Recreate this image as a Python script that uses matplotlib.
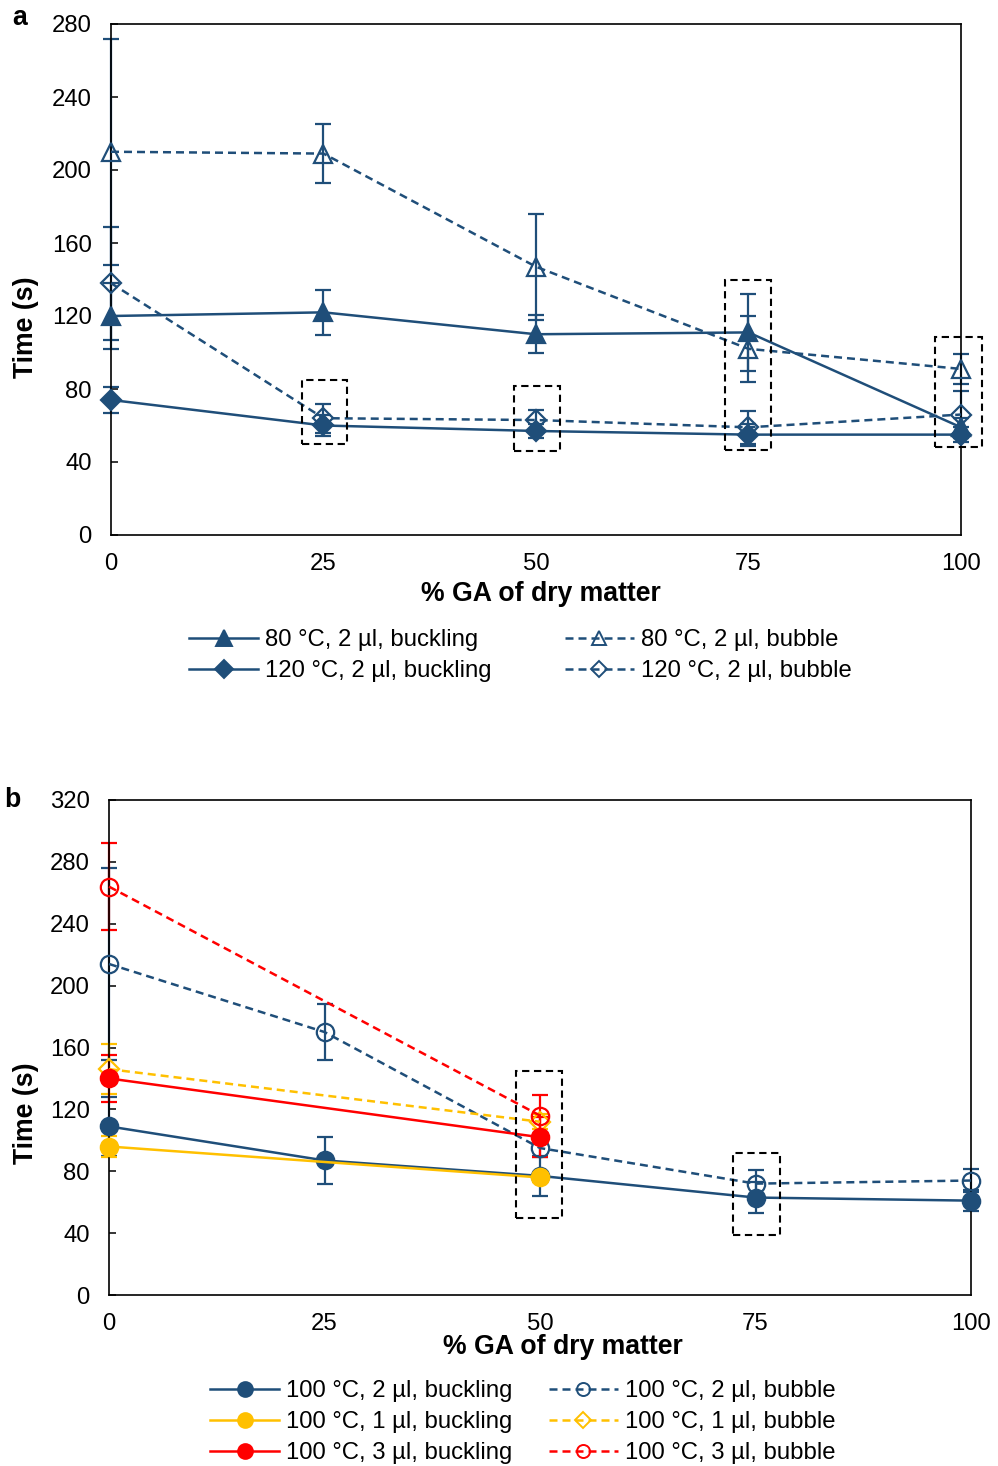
import matplotlib
matplotlib.use("Agg")
import matplotlib.pyplot as plt
from matplotlib.lines import Line2D
from matplotlib.patches import Rectangle

plt.rcParams["font.family"] = ["Liberation Sans", "DejaVu Sans"]

# ---------------- data: panel a ----------------
ga = [0, 25, 50, 75, 100]
buck_80 = [120, 122, 110, 111, 59]
buck_80_err = [18, 12.5, 10.5, 21, 5]
bub_80 = [210, 209, 147, 102, 91]
bub_80_err = [62, 16, 29, 18, 8]
buck_120 = [74, 60, 57, 55, 55]
buck_120_err = [7, 5.5, 4, 6, 4]
bub_120 = [138, 64, 63, 59, 66]
bub_120_err = [31, 8, 5.5, 9, 13]

# ---------------- data: panel b ----------------
ga_2ul = [0, 25, 50, 75, 100]
buck_2ul = [109, 87, 77, 63, 61]
buck_2ul_err = [19, 15, 13, 10, 7]
bub_2ul = [214, 170, 95, 72, 74]
bub_2ul_err = [62, 18, 6, 8.6, 7.5]
ga_1ul = [0, 50]
buck_1ul = [96, 76]
buck_1ul_err = [7, 3]
bub_1ul = [146, 112]
bub_1ul_err = [16, 5]
ga_3ul = [0, 50]
buck_3ul = [140, 102]
buck_3ul_err = [15, 13]
bub_3ul = [264, 116]
bub_3ul_err = [28, 13]

xticks = [0, 25, 50, 75, 100]
yticks_a = [0, 40, 80, 120, 160, 200, 240, 280]
yticks_b = [0, 40, 80, 120, 160, 200, 240, 280, 320]

# highlighted regions (x0, x1, y0, y1)
boxes_a = [(22.5, 27.8, 50, 85), (47.4, 52.8, 46, 81.5),
           (72.2, 77.7, 46.5, 140), (97.0, 102.5, 48, 108.5)]
boxes_b = [(47.2, 52.6, 50, 145), (72.4, 77.8, 39, 91.5)]

BLUE = "#1F4E79"
YELLOW = "#FFC000"
RED = "#FF0000"
DASH = (0, (3.2, 2.0))
LW = 1.8
FS = 17.2
FS_LABEL = 19.2

fig = plt.figure(figsize=(9.98, 14.66), dpi=100)
ax_a = fig.add_axes([111 / 998, 1 - 535 / 1466, 850 / 998, 511 / 1466])
ax_b = fig.add_axes([109 / 998, 1 - 1295 / 1466, 862 / 998, 495 / 1466])


def series(ax, x, y, err, color, marker, ls, filled, ms=12.5):
    ax.errorbar(x, y, yerr=err, color=color, ecolor=color, elinewidth=1.6,
                capsize=5.5, capthick=1.6, linestyle="none", marker="none",
                clip_on=False, zorder=2)
    ax.plot(x, y, color=color, linestyle=ls, linewidth=LW, marker=marker,
            markersize=ms, markeredgewidth=1.6,
            markerfacecolor=color if filled else "none",
            markeredgecolor=color, clip_on=False, zorder=3)
    return Line2D([], [], color=color, linestyle=ls, linewidth=LW,
                  marker=marker, markersize=ms * 0.85 if filled else ms * 0.75,
                  markeredgewidth=1.4,
                  markerfacecolor=color if filled else "none",
                  markeredgecolor=color)


def style(ax, ymax, yticks):
    ax.set_xlim(0, 100)
    ax.set_ylim(0, ymax)
    ax.set_xticks(xticks)
    ax.set_yticks(yticks)
    for s in ax.spines.values():
        s.set_linewidth(1.2)
        s.set_color("black")
    ax.tick_params(axis="y", direction="in", length=5, width=1.1,
                   labelsize=FS, pad=14)
    ax.tick_params(axis="x", length=0, labelsize=FS, pad=13)


def draw_boxes(ax, boxes):
    for x0, x1, y0, y1 in boxes:
        ax.add_patch(Rectangle((x0, y0), x1 - x0, y1 - y0, fill=False,
                               edgecolor="black", linestyle=(0, (3.5, 2.2)),
                               linewidth=1.5, clip_on=False, zorder=5))


# ---- panel a ----
h_bk80 = series(ax_a, ga, buck_80, buck_80_err, BLUE, "^", "-", True, ms=13)
h_bb80 = series(ax_a, ga, bub_80, bub_80_err, BLUE, "^", DASH, False, ms=13)
h_bk120 = series(ax_a, ga, buck_120, buck_120_err, BLUE, "D", "-", True, ms=10.5)
h_bb120 = series(ax_a, ga, bub_120, bub_120_err, BLUE, "D", DASH, False, ms=10.5)
style(ax_a, 280, yticks_a)
draw_boxes(ax_a, boxes_a)

fig.text(20 / 998, 1 - 18 / 1466, "a", fontsize=FS_LABEL, fontweight="bold",
         ha="center", va="center")
fig.text(26 / 998, 1 - 327 / 1466, "Time (s)", fontsize=FS_LABEL,
         fontweight="bold", rotation=90, ha="center", va="center")
fig.text(541 / 998, 1 - 594 / 1466, "% GA of dry matter", fontsize=FS_LABEL,
         fontweight="bold", ha="center", va="center")

leg_a = fig.legend([h_bk80, h_bk120, h_bb80, h_bb120],
                   ["80 °C, 2 µl, buckling", "120 °C, 2 µl, buckling",
                    "80 °C, 2 µl, bubble", "120 °C, 2 µl, bubble"],
                   ncol=2, loc="upper left",
                   bbox_to_anchor=(189 / 998, 1 - 629 / 1466),
                   frameon=False, fontsize=FS, borderpad=0, borderaxespad=0,
                   handlelength=2.9, handletextpad=0.3, columnspacing=3.05,
                   labelspacing=0.38, numpoints=1)

# ---- panel b ----
h_bk2 = series(ax_b, ga_2ul, buck_2ul, buck_2ul_err, BLUE, "o", "-", True)
h_bb2 = series(ax_b, ga_2ul, bub_2ul, bub_2ul_err, BLUE, "o", DASH, False)
h_bk1 = series(ax_b, ga_1ul, buck_1ul, buck_1ul_err, YELLOW, "o", "-", True)
h_bb1 = series(ax_b, ga_1ul, bub_1ul, bub_1ul_err, YELLOW, "D", DASH, False, ms=10.5)
h_bk3 = series(ax_b, ga_3ul, buck_3ul, buck_3ul_err, RED, "o", "-", True)
h_bb3 = series(ax_b, ga_3ul, bub_3ul, bub_3ul_err, RED, "o", DASH, False)
style(ax_b, 320, yticks_b)
draw_boxes(ax_b, boxes_b)

fig.text(12 / 998, 1 - 800 / 1466, "b", fontsize=FS_LABEL, fontweight="bold",
         ha="center", va="center")
fig.text(26 / 998, 1 - 1113 / 1466, "Time (s)", fontsize=FS_LABEL,
         fontweight="bold", rotation=90, ha="center", va="center")
fig.text(563 / 998, 1 - 1347 / 1466, "% GA of dry matter", fontsize=FS_LABEL,
         fontweight="bold", ha="center", va="center")

leg_b = fig.legend([h_bk2, h_bk1, h_bk3, h_bb2, h_bb1, h_bb3],
                   ["100 °C, 2 µl, buckling", "100 °C, 1 µl, buckling",
                    "100 °C, 3 µl, buckling", "100 °C, 2 µl, bubble",
                    "100 °C, 1 µl, bubble", "100 °C, 3 µl, bubble"],
                   ncol=2, loc="upper left",
                   bbox_to_anchor=(210 / 998, 1 - 1380 / 1466),
                   frameon=False, fontsize=FS, borderpad=0, borderaxespad=0,
                   handlelength=2.9, handletextpad=0.3, columnspacing=1.5,
                   labelspacing=0.38, numpoints=1)

fig.savefig("out.png", dpi=100)
